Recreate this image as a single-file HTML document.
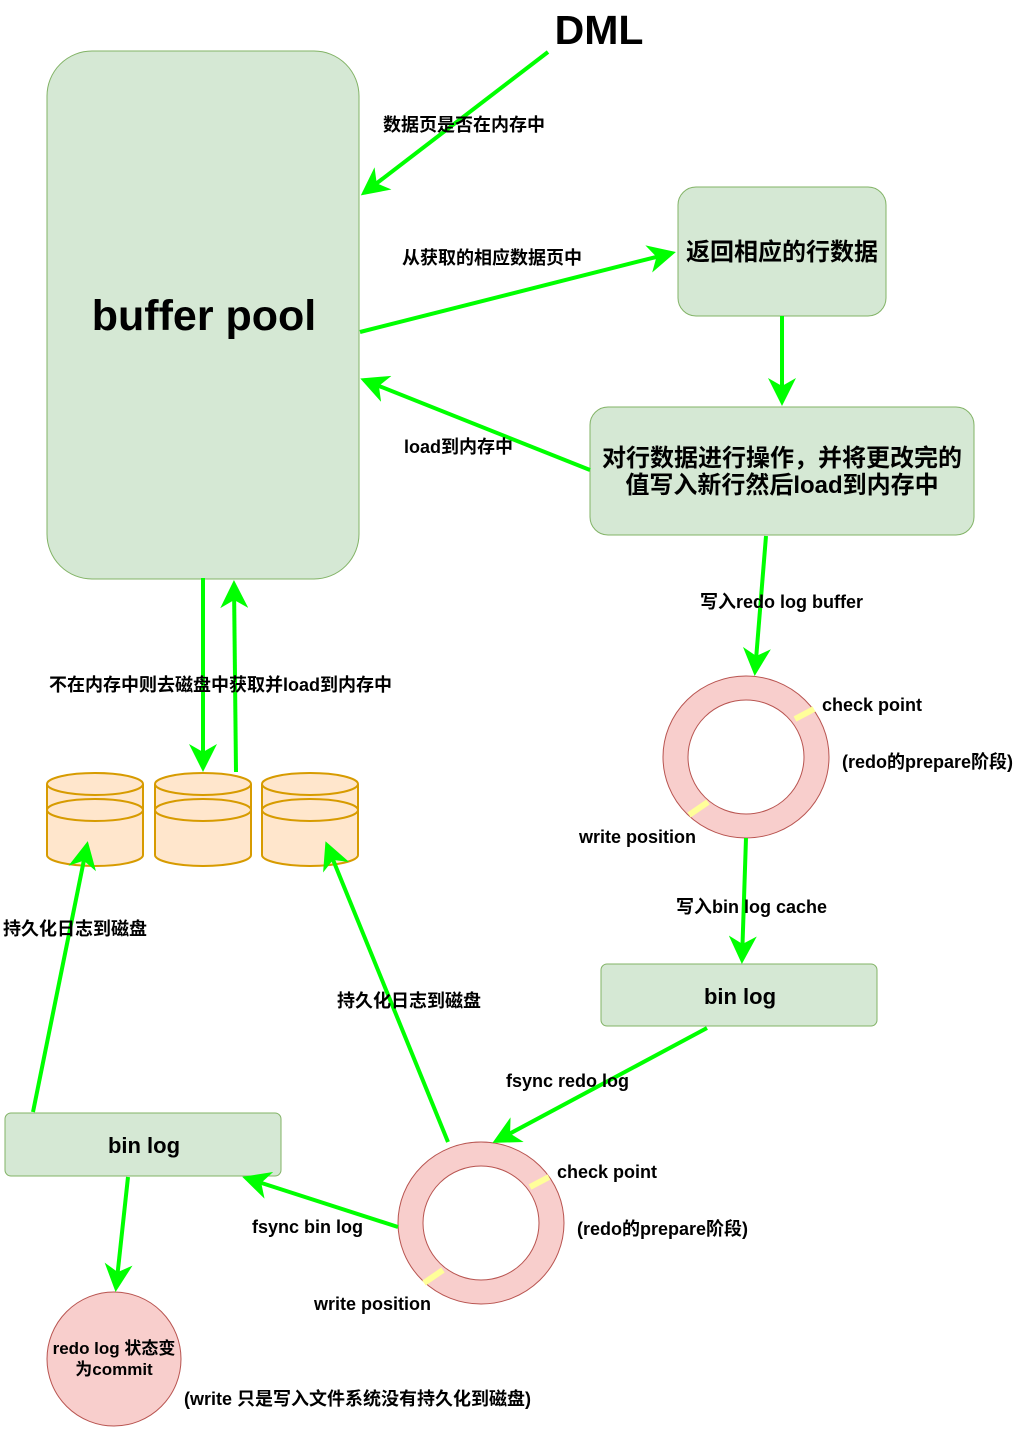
<!DOCTYPE html>
<html><head><meta charset="utf-8"><style>
html,body{margin:0;padding:0;background:#fff;}
svg text{font-family:"Liberation Sans","Noto Sans CJK SC",sans-serif;font-weight:bold;fill:#000;}
</style></head><body>
<svg width="1035" height="1427" viewBox="0 0 1035 1427" xmlns="http://www.w3.org/2000/svg">
<defs>
<marker id="a" markerWidth="7" markerHeight="7" refX="6" refY="3.5" orient="auto" markerUnits="strokeWidth">
<path d="M0,0 L7,3.5 L0,7 L2,3.5 z" fill="#00ff00"/></marker>
</defs>
<rect x="47" y="51" width="312" height="528" rx="45" fill="#d5e8d4" stroke="#82b366"/>
<rect x="678" y="187" width="208" height="129" rx="18" fill="#d5e8d4" stroke="#82b366"/>
<rect x="590" y="407" width="384" height="128" rx="18" fill="#d5e8d4" stroke="#82b366"/>
<rect x="601" y="964" width="276" height="62" rx="6" fill="#d5e8d4" stroke="#82b366"/>
<rect x="5" y="1113" width="276" height="63" rx="6" fill="#d5e8d4" stroke="#82b366"/>
<g fill="#ffe6cc" stroke="#d79b00" stroke-width="2">
<path d="M47,784 v71 a48,11 0 0 0 96,0 v-71"/><ellipse cx="95" cy="784" rx="48" ry="11"/><path d="M47,810 a48,11 0 0 0 96,0" fill="none"/><path d="M47,810 a48,11 0 0 1 96,0" fill="none"/>
<path d="M155,784 v71 a48,11 0 0 0 96,0 v-71"/><ellipse cx="203" cy="784" rx="48" ry="11"/><path d="M155,810 a48,11 0 0 0 96,0" fill="none"/><path d="M155,810 a48,11 0 0 1 96,0" fill="none"/>
<path d="M262,784 v71 a48,11 0 0 0 96,0 v-71"/><ellipse cx="310" cy="784" rx="48" ry="11"/><path d="M262,810 a48,11 0 0 0 96,0" fill="none"/><path d="M262,810 a48,11 0 0 1 96,0" fill="none"/>
</g>
<path fill-rule="evenodd" fill="#f8cecc" stroke="#b85450" d="M663,757 a83,81 0 1 0 166,0 a83,81 0 1 0 -166,0 z M688,757 a58,57 0 1 0 116,0 a58,57 0 1 0 -116,0 z"/>
<line x1="795" y1="719" x2="814" y2="709" stroke="#ffff99" stroke-width="6"/>
<line x1="689" y1="815" x2="708" y2="802" stroke="#ffff99" stroke-width="6"/>
<path fill-rule="evenodd" fill="#f8cecc" stroke="#b85450" d="M398,1223 a83,81 0 1 0 166,0 a83,81 0 1 0 -166,0 z M423,1223 a58,57 0 1 0 116,0 a58,57 0 1 0 -116,0 z"/>
<line x1="530" y1="1187" x2="549" y2="1177" stroke="#ffff99" stroke-width="6"/>
<line x1="424" y1="1283" x2="443" y2="1270" stroke="#ffff99" stroke-width="6"/>
<circle cx="114" cy="1359" r="67" fill="#f8cecc" stroke="#b85450"/>
<g stroke="#00ff00" stroke-width="4" fill="none" marker-end="url(#a)">
<line x1="548" y1="52" x2="364" y2="193"/>
<line x1="360" y1="332" x2="672" y2="253"/>
<line x1="590" y1="470" x2="364" y2="380"/>
<line x1="782" y1="316" x2="782" y2="402"/>
<line x1="766" y1="536" x2="755" y2="672"/>
<line x1="746" y1="838" x2="742" y2="960"/>
<line x1="707" y1="1028" x2="496" y2="1141"/>
<line x1="398" y1="1227" x2="246" y2="1178"/>
<line x1="448" y1="1142" x2="327" y2="845"/>
<line x1="33" y1="1112" x2="87" y2="845"/>
<line x1="203" y1="578" x2="203" y2="768"/>
<line x1="236" y1="772" x2="234" y2="584"/>
<line x1="128" y1="1177" x2="116" y2="1288"/>
</g>
<text x="599" y="44" font-size="41" text-anchor="middle">DML</text>
<text x="204" y="330" font-size="43" text-anchor="middle">buffer pool</text>
<text x="782" y="260" font-size="24" text-anchor="middle">返回相应的行数据</text>
<text x="782" y="466" font-size="24" text-anchor="middle">对行数据进行操作，并将更改完的</text>
<text x="782" y="493" font-size="24" text-anchor="middle">值写入新行然后load到内存中</text>
<text x="740" y="1004" font-size="22" text-anchor="middle">bin log</text>
<text x="144" y="1153" font-size="22" text-anchor="middle">bin log</text>
<text x="114" y="1354" font-size="17" text-anchor="middle">redo log 状态变</text>
<text x="114" y="1375" font-size="17" text-anchor="middle">为commit</text>
<g font-size="18">
<text x="383" y="131">数据页是否在内存中</text>
<text x="402" y="264">从获取的相应数据页中</text>
<text x="404" y="453">load到内存中</text>
<text x="700" y="608">写入redo log buffer</text>
<text x="49" y="691">不在内存中则去磁盘中获取并load到内存中</text>
<text x="822" y="711">check point</text>
<text x="842" y="768">(redo的prepare阶段)</text>
<text x="579" y="843">write position</text>
<text x="676" y="913">写入bin log cache</text>
<text x="3" y="935">持久化日志到磁盘</text>
<text x="337" y="1007">持久化日志到磁盘</text>
<text x="506" y="1087">fsync redo log</text>
<text x="557" y="1178">check point</text>
<text x="577" y="1235">(redo的prepare阶段)</text>
<text x="252" y="1233">fsync bin log</text>
<text x="314" y="1310">write position</text>
<text x="184" y="1405">(write 只是写入文件系统没有持久化到磁盘)</text>
</g>
</svg>
</body></html>
